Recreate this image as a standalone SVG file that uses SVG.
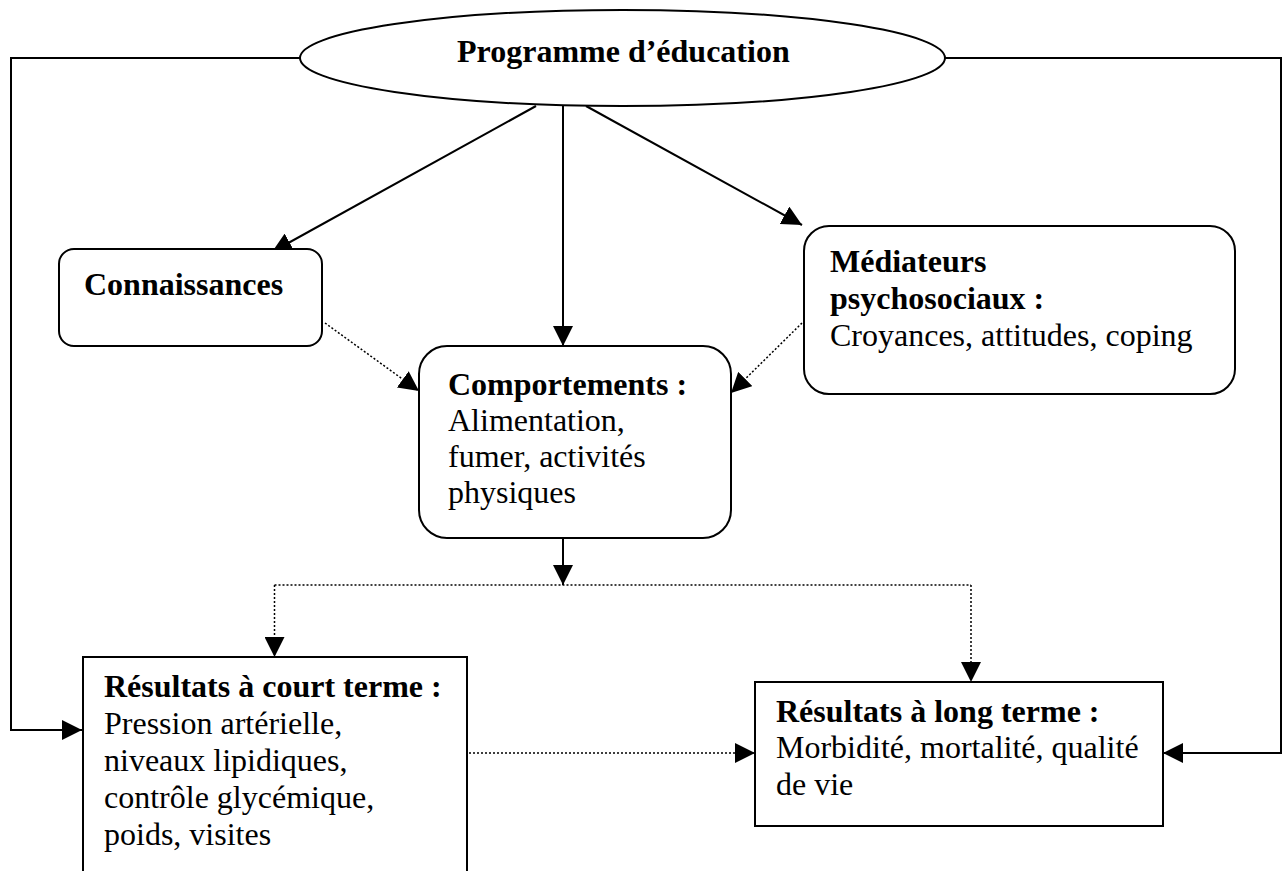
<svg xmlns="http://www.w3.org/2000/svg" width="1285" height="871" viewBox="0 0 1285 871">
<style>
text{font-family:"Liberation Serif","Times New Roman",serif;font-size:32px;fill:#000}
.b{font-weight:bold}
.node{fill:#fff;stroke:#000;stroke-width:2}
.solid{fill:none;stroke:#000;stroke-width:2}
.dot{fill:none;stroke:#000;stroke-width:1.5;stroke-dasharray:2 2}
</style>
<defs>
<marker id="ah" markerUnits="userSpaceOnUse" markerWidth="20" markerHeight="20" viewBox="0 0 20 20" refX="20" refY="10" orient="auto">
<path d="M0,0 L20,10 L0,20 z" fill="#000"/>
</marker>
</defs>
<rect width="1285" height="871" fill="#fff"/>
<g id="connectors">
<path class="solid" d="M300,58 H11 V730 H82" marker-end="url(#ah)"/>
<path class="solid" d="M945,58 H1281 V753 H1163" marker-end="url(#ah)"/>
<path class="solid" d="M536,106 L272,252" marker-end="url(#ah)"/>
<path class="solid" d="M563,106 V346" marker-end="url(#ah)"/>
<path class="solid" d="M586,106 L802,225" marker-end="url(#ah)"/>
<path class="dot" d="M325,323 L419,391" marker-end="url(#ah)"/>
<path class="dot" d="M802,323 L731,393" marker-end="url(#ah)"/>
<path class="solid" d="M563,538 V585" marker-end="url(#ah)"/>
<path class="dot" d="M274.5,585 H971"/>
<path class="dot" d="M274.5,585 V657" marker-end="url(#ah)"/>
<path class="dot" d="M971,585 V682" marker-end="url(#ah)"/>
<path class="dot" d="M469,753 H755" marker-end="url(#ah)"/>
</g>
<g id="programme">
<ellipse class="node" cx="622.5" cy="58" rx="322.5" ry="48"/>
<text class="b" x="457" y="62">Programme d’éducation</text>
</g>
<g id="connaissances">
<rect class="node" x="59" y="249" width="263" height="97" rx="15"/>
<text class="b" x="84" y="295">Connaissances</text>
</g>
<g id="mediateurs">
<rect class="node" x="804" y="226" width="431" height="168" rx="25"/>
<text class="b" x="830" y="272">Médiateurs</text>
<text class="b" x="830" y="309">psychosociaux :</text>
<text x="830" y="346">Croyances, attitudes, coping</text>
</g>
<g id="comportements">
<rect class="node" x="419" y="346" width="312" height="192" rx="28"/>
<text class="b" x="448" y="395">Comportements :</text>
<text x="448" y="431">Alimentation,</text>
<text x="448" y="467">fumer, activités</text>
<text x="448" y="503">physiques</text>
</g>
<g id="court-terme">
<rect class="node" x="83" y="657" width="384" height="230"/>
<text class="b" x="104" y="697">Résultats à court terme :</text>
<text x="104" y="734">Pression artérielle,</text>
<text x="104" y="771">niveaux lipidiques,</text>
<text x="104" y="808">contrôle glycémique,</text>
<text x="104" y="845">poids, visites</text>
</g>
<g id="long-terme">
<rect class="node" x="755" y="682" width="408" height="144"/>
<text class="b" x="776" y="722">Résultats à long terme :</text>
<text x="776" y="758">Morbidité, mortalité, qualité</text>
<text x="776" y="795">de vie</text>
</g>
</svg>
